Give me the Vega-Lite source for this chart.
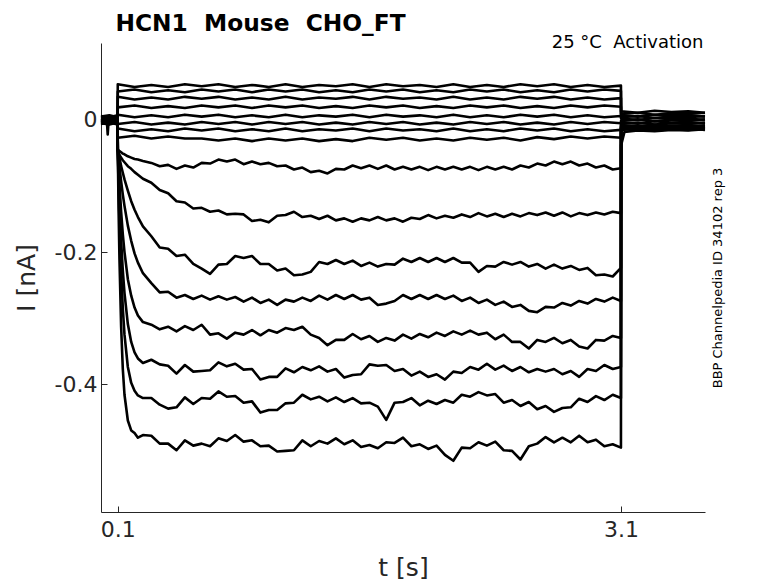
{
"$schema": "https://vega.github.io/schema/vega-lite/v6.json",
"autosize": "none",
"width": 604,
"height": 469,
"padding": {"left": 101, "top": 43, "right": 73, "bottom": 71},
"background": "white",
"config": {"view": {"stroke": null}, "font": "DejaVu Sans"},
"title": {"text": "HCN1\u00a0 Mouse\u00a0 CHO_FT", "anchor": "start", "frame": "group", "font": "DejaVu Sans", "fontSize": 23.3, "fontWeight": "bold", "color": "black", "dx": 14.5, "dy": 28, "offset": 7, "baseline": "alphabetic"},
"data": {"values": [
{"trace":"T1","t":0,"I":0.006},{"trace":"T1","t":0.05,"I":0.004},{"trace":"T1","t":0.099,"I":0.007},
{"trace":"T1","t":0.1,"I":0.054},{"trace":"T1","t":0.2,"I":0.050},{"trace":"T1","t":0.3,"I":0.053},{"trace":"T1","t":0.4,"I":0.050},{"trace":"T1","t":0.5,"I":0.054},{"trace":"T1","t":0.6,"I":0.051},{"trace":"T1","t":0.7,"I":0.054},{"trace":"T1","t":0.8,"I":0.050},{"trace":"T1","t":0.9,"I":0.053},{"trace":"T1","t":1.0,"I":0.050},{"trace":"T1","t":1.1,"I":0.054},{"trace":"T1","t":1.2,"I":0.050},{"trace":"T1","t":1.3,"I":0.053},{"trace":"T1","t":1.4,"I":0.051},{"trace":"T1","t":1.5,"I":0.054},{"trace":"T1","t":1.6,"I":0.050},{"trace":"T1","t":1.7,"I":0.054},{"trace":"T1","t":1.8,"I":0.051},{"trace":"T1","t":1.9,"I":0.053},{"trace":"T1","t":2.0,"I":0.050},{"trace":"T1","t":2.1,"I":0.054},{"trace":"T1","t":2.2,"I":0.050},{"trace":"T1","t":2.3,"I":0.053},{"trace":"T1","t":2.4,"I":0.050},{"trace":"T1","t":2.5,"I":0.054},{"trace":"T1","t":2.6,"I":0.051},{"trace":"T1","t":2.7,"I":0.054},{"trace":"T1","t":2.8,"I":0.050},{"trace":"T1","t":2.9,"I":0.053},{"trace":"T1","t":3.0,"I":0.050},{"trace":"T1","t":3.099,"I":0.052},
{"trace":"T1","t":3.1,"I":0.013},{"trace":"T1","t":3.2,"I":0.011},{"trace":"T1","t":3.3,"I":0.014},{"trace":"T1","t":3.4,"I":0.012},{"trace":"T1","t":3.5,"I":0.013},{"trace":"T1","t":3.6,"I":0.011},
{"trace":"T2","t":0,"I":0.004},{"trace":"T2","t":0.05,"I":0.006},{"trace":"T2","t":0.099,"I":0.003},
{"trace":"T2","t":0.1,"I":0.043},{"trace":"T2","t":0.2,"I":0.046},{"trace":"T2","t":0.3,"I":0.042},{"trace":"T2","t":0.4,"I":0.045},{"trace":"T2","t":0.5,"I":0.042},{"trace":"T2","t":0.6,"I":0.046},{"trace":"T2","t":0.7,"I":0.043},{"trace":"T2","t":0.8,"I":0.046},{"trace":"T2","t":0.9,"I":0.042},{"trace":"T2","t":1.0,"I":0.046},{"trace":"T2","t":1.1,"I":0.043},{"trace":"T2","t":1.2,"I":0.046},{"trace":"T2","t":1.3,"I":0.042},{"trace":"T2","t":1.4,"I":0.045},{"trace":"T2","t":1.5,"I":0.042},{"trace":"T2","t":1.6,"I":0.046},{"trace":"T2","t":1.7,"I":0.043},{"trace":"T2","t":1.8,"I":0.046},{"trace":"T2","t":1.9,"I":0.042},{"trace":"T2","t":2.0,"I":0.045},{"trace":"T2","t":2.1,"I":0.042},{"trace":"T2","t":2.2,"I":0.046},{"trace":"T2","t":2.3,"I":0.043},{"trace":"T2","t":2.4,"I":0.046},{"trace":"T2","t":2.5,"I":0.042},{"trace":"T2","t":2.6,"I":0.045},{"trace":"T2","t":2.7,"I":0.042},{"trace":"T2","t":2.8,"I":0.046},{"trace":"T2","t":2.9,"I":0.043},{"trace":"T2","t":3.0,"I":0.046},{"trace":"T2","t":3.099,"I":0.044},
{"trace":"T2","t":3.1,"I":0.009},{"trace":"T2","t":3.2,"I":0.011},{"trace":"T2","t":3.3,"I":0.008},{"trace":"T2","t":3.4,"I":0.010},{"trace":"T2","t":3.5,"I":0.009},{"trace":"T2","t":3.6,"I":0.011},
{"trace":"T3","t":0,"I":0.002},{"trace":"T3","t":0.05,"I":0.004},{"trace":"T3","t":0.099,"I":0.001},
{"trace":"T3","t":0.1,"I":0.035},{"trace":"T3","t":0.2,"I":0.031},{"trace":"T3","t":0.3,"I":0.034},{"trace":"T3","t":0.4,"I":0.031},{"trace":"T3","t":0.5,"I":0.035},{"trace":"T3","t":0.6,"I":0.032},{"trace":"T3","t":0.7,"I":0.035},{"trace":"T3","t":0.8,"I":0.031},{"trace":"T3","t":0.9,"I":0.034},{"trace":"T3","t":1.0,"I":0.031},{"trace":"T3","t":1.1,"I":0.035},{"trace":"T3","t":1.2,"I":0.031},{"trace":"T3","t":1.3,"I":0.034},{"trace":"T3","t":1.4,"I":0.032},{"trace":"T3","t":1.5,"I":0.035},{"trace":"T3","t":1.6,"I":0.031},{"trace":"T3","t":1.7,"I":0.035},{"trace":"T3","t":1.8,"I":0.032},{"trace":"T3","t":1.9,"I":0.034},{"trace":"T3","t":2.0,"I":0.031},{"trace":"T3","t":2.1,"I":0.035},{"trace":"T3","t":2.2,"I":0.031},{"trace":"T3","t":2.3,"I":0.034},{"trace":"T3","t":2.4,"I":0.031},{"trace":"T3","t":2.5,"I":0.035},{"trace":"T3","t":2.6,"I":0.032},{"trace":"T3","t":2.7,"I":0.035},{"trace":"T3","t":2.8,"I":0.031},{"trace":"T3","t":2.9,"I":0.034},{"trace":"T3","t":3.0,"I":0.031},{"trace":"T3","t":3.099,"I":0.033},
{"trace":"T3","t":3.1,"I":0.007},{"trace":"T3","t":3.2,"I":0.005},{"trace":"T3","t":3.3,"I":0.008},{"trace":"T3","t":3.4,"I":0.006},{"trace":"T3","t":3.5,"I":0.007},{"trace":"T3","t":3.6,"I":0.005},
{"trace":"T4","t":0,"I":0.000},{"trace":"T4","t":0.05,"I":0.002},{"trace":"T4","t":0.099,"I":-0.001},
{"trace":"T4","t":0.1,"I":0.019},{"trace":"T4","t":0.2,"I":0.022},{"trace":"T4","t":0.3,"I":0.018},{"trace":"T4","t":0.4,"I":0.021},{"trace":"T4","t":0.5,"I":0.018},{"trace":"T4","t":0.6,"I":0.022},{"trace":"T4","t":0.7,"I":0.019},{"trace":"T4","t":0.8,"I":0.022},{"trace":"T4","t":0.9,"I":0.018},{"trace":"T4","t":1.0,"I":0.022},{"trace":"T4","t":1.1,"I":0.019},{"trace":"T4","t":1.2,"I":0.022},{"trace":"T4","t":1.3,"I":0.018},{"trace":"T4","t":1.4,"I":0.021},{"trace":"T4","t":1.5,"I":0.018},{"trace":"T4","t":1.6,"I":0.022},{"trace":"T4","t":1.7,"I":0.019},{"trace":"T4","t":1.8,"I":0.022},{"trace":"T4","t":1.9,"I":0.018},{"trace":"T4","t":2.0,"I":0.021},{"trace":"T4","t":2.1,"I":0.018},{"trace":"T4","t":2.2,"I":0.022},{"trace":"T4","t":2.3,"I":0.019},{"trace":"T4","t":2.4,"I":0.022},{"trace":"T4","t":2.5,"I":0.018},{"trace":"T4","t":2.6,"I":0.021},{"trace":"T4","t":2.7,"I":0.018},{"trace":"T4","t":2.8,"I":0.022},{"trace":"T4","t":2.9,"I":0.019},{"trace":"T4","t":3.0,"I":0.022},{"trace":"T4","t":3.099,"I":0.020},
{"trace":"T4","t":3.1,"I":0.004},{"trace":"T4","t":3.2,"I":0.006},{"trace":"T4","t":3.3,"I":0.003},{"trace":"T4","t":3.4,"I":0.005},{"trace":"T4","t":3.5,"I":0.004},{"trace":"T4","t":3.6,"I":0.006},
{"trace":"T5","t":0,"I":-0.002},{"trace":"T5","t":0.05,"I":0.000},{"trace":"T5","t":0.099,"I":-0.003},
{"trace":"T5","t":0.1,"I":0.008},{"trace":"T5","t":0.2,"I":0.004},{"trace":"T5","t":0.3,"I":0.007},{"trace":"T5","t":0.4,"I":0.004},{"trace":"T5","t":0.5,"I":0.008},{"trace":"T5","t":0.6,"I":0.005},{"trace":"T5","t":0.7,"I":0.008},{"trace":"T5","t":0.8,"I":0.004},{"trace":"T5","t":0.9,"I":0.007},{"trace":"T5","t":1.0,"I":0.004},{"trace":"T5","t":1.1,"I":0.008},{"trace":"T5","t":1.2,"I":0.004},{"trace":"T5","t":1.3,"I":0.007},{"trace":"T5","t":1.4,"I":0.005},{"trace":"T5","t":1.5,"I":0.008},{"trace":"T5","t":1.6,"I":0.004},{"trace":"T5","t":1.7,"I":0.008},{"trace":"T5","t":1.8,"I":0.005},{"trace":"T5","t":1.9,"I":0.007},{"trace":"T5","t":2.0,"I":0.004},{"trace":"T5","t":2.1,"I":0.008},{"trace":"T5","t":2.2,"I":0.004},{"trace":"T5","t":2.3,"I":0.007},{"trace":"T5","t":2.4,"I":0.004},{"trace":"T5","t":2.5,"I":0.008},{"trace":"T5","t":2.6,"I":0.005},{"trace":"T5","t":2.7,"I":0.008},{"trace":"T5","t":2.8,"I":0.004},{"trace":"T5","t":2.9,"I":0.007},{"trace":"T5","t":3.0,"I":0.004},{"trace":"T5","t":3.099,"I":0.006},
{"trace":"T5","t":3.1,"I":0.002},{"trace":"T5","t":3.2,"I":0.000},{"trace":"T5","t":3.3,"I":0.003},{"trace":"T5","t":3.4,"I":0.001},{"trace":"T5","t":3.5,"I":0.002},{"trace":"T5","t":3.6,"I":0.000},
{"trace":"T6","t":0,"I":-0.004},{"trace":"T6","t":0.05,"I":-0.002},{"trace":"T6","t":0.099,"I":-0.005},
{"trace":"T6","t":0.1,"I":-0.006},{"trace":"T6","t":0.2,"I":-0.003},{"trace":"T6","t":0.3,"I":-0.007},{"trace":"T6","t":0.4,"I":-0.004},{"trace":"T6","t":0.5,"I":-0.007},{"trace":"T6","t":0.6,"I":-0.003},{"trace":"T6","t":0.7,"I":-0.006},{"trace":"T6","t":0.8,"I":-0.003},{"trace":"T6","t":0.9,"I":-0.007},{"trace":"T6","t":1.0,"I":-0.003},{"trace":"T6","t":1.1,"I":-0.006},{"trace":"T6","t":1.2,"I":-0.003},{"trace":"T6","t":1.3,"I":-0.007},{"trace":"T6","t":1.4,"I":-0.004},{"trace":"T6","t":1.5,"I":-0.007},{"trace":"T6","t":1.6,"I":-0.003},{"trace":"T6","t":1.7,"I":-0.006},{"trace":"T6","t":1.8,"I":-0.003},{"trace":"T6","t":1.9,"I":-0.007},{"trace":"T6","t":2.0,"I":-0.004},{"trace":"T6","t":2.1,"I":-0.007},{"trace":"T6","t":2.2,"I":-0.003},{"trace":"T6","t":2.3,"I":-0.006},{"trace":"T6","t":2.4,"I":-0.003},{"trace":"T6","t":2.5,"I":-0.007},{"trace":"T6","t":2.6,"I":-0.004},{"trace":"T6","t":2.7,"I":-0.007},{"trace":"T6","t":2.8,"I":-0.003},{"trace":"T6","t":2.9,"I":-0.006},{"trace":"T6","t":3.0,"I":-0.003},{"trace":"T6","t":3.099,"I":-0.005},
{"trace":"T6","t":3.1,"I":-0.001},{"trace":"T6","t":3.2,"I":0.001},{"trace":"T6","t":3.3,"I":-0.002},{"trace":"T6","t":3.4,"I":0.000},{"trace":"T6","t":3.5,"I":-0.001},{"trace":"T6","t":3.6,"I":0.001},
{"trace":"T7","t":0,"I":-0.006},{"trace":"T7","t":0.05,"I":-0.004},{"trace":"T7","t":0.099,"I":-0.007},
{"trace":"T7","t":0.1,"I":-0.013},{"trace":"T7","t":0.2,"I":-0.017},{"trace":"T7","t":0.3,"I":-0.014},{"trace":"T7","t":0.4,"I":-0.017},{"trace":"T7","t":0.5,"I":-0.013},{"trace":"T7","t":0.6,"I":-0.016},{"trace":"T7","t":0.7,"I":-0.013},{"trace":"T7","t":0.8,"I":-0.017},{"trace":"T7","t":0.9,"I":-0.014},{"trace":"T7","t":1.0,"I":-0.017},{"trace":"T7","t":1.1,"I":-0.013},{"trace":"T7","t":1.2,"I":-0.017},{"trace":"T7","t":1.3,"I":-0.014},{"trace":"T7","t":1.4,"I":-0.016},{"trace":"T7","t":1.5,"I":-0.013},{"trace":"T7","t":1.6,"I":-0.017},{"trace":"T7","t":1.7,"I":-0.013},{"trace":"T7","t":1.8,"I":-0.016},{"trace":"T7","t":1.9,"I":-0.014},{"trace":"T7","t":2.0,"I":-0.017},{"trace":"T7","t":2.1,"I":-0.013},{"trace":"T7","t":2.2,"I":-0.017},{"trace":"T7","t":2.3,"I":-0.014},{"trace":"T7","t":2.4,"I":-0.017},{"trace":"T7","t":2.5,"I":-0.013},{"trace":"T7","t":2.6,"I":-0.016},{"trace":"T7","t":2.7,"I":-0.013},{"trace":"T7","t":2.8,"I":-0.017},{"trace":"T7","t":2.9,"I":-0.014},{"trace":"T7","t":3.0,"I":-0.017},{"trace":"T7","t":3.099,"I":-0.015},
{"trace":"T7","t":3.1,"I":-0.003},{"trace":"T7","t":3.2,"I":-0.005},{"trace":"T7","t":3.3,"I":-0.002},{"trace":"T7","t":3.4,"I":-0.004},{"trace":"T7","t":3.5,"I":-0.003},{"trace":"T7","t":3.6,"I":-0.005},
{"trace":"T8","t":0,"I":0.005},{"trace":"T8","t":0.05,"I":0.007},{"trace":"T8","t":0.099,"I":0.004},
{"trace":"T8","t":0.1,"I":-0.027},{"trace":"T8","t":0.2,"I":-0.024},{"trace":"T8","t":0.3,"I":-0.028},{"trace":"T8","t":0.4,"I":-0.025},{"trace":"T8","t":0.5,"I":-0.028},{"trace":"T8","t":0.6,"I":-0.028},{"trace":"T8","t":0.7,"I":-0.031},{"trace":"T8","t":0.8,"I":-0.028},{"trace":"T8","t":0.9,"I":-0.032},{"trace":"T8","t":1.0,"I":-0.028},{"trace":"T8","t":1.1,"I":-0.031},{"trace":"T8","t":1.2,"I":-0.028},{"trace":"T8","t":1.3,"I":-0.032},{"trace":"T8","t":1.4,"I":-0.029},{"trace":"T8","t":1.5,"I":-0.032},{"trace":"T8","t":1.6,"I":-0.027},{"trace":"T8","t":1.7,"I":-0.030},{"trace":"T8","t":1.8,"I":-0.027},{"trace":"T8","t":1.9,"I":-0.031},{"trace":"T8","t":2.0,"I":-0.028},{"trace":"T8","t":2.1,"I":-0.031},{"trace":"T8","t":2.2,"I":-0.027},{"trace":"T8","t":2.3,"I":-0.030},{"trace":"T8","t":2.4,"I":-0.027},{"trace":"T8","t":2.5,"I":-0.031},{"trace":"T8","t":2.6,"I":-0.026},{"trace":"T8","t":2.7,"I":-0.029},{"trace":"T8","t":2.8,"I":-0.025},{"trace":"T8","t":2.9,"I":-0.028},{"trace":"T8","t":3.0,"I":-0.025},{"trace":"T8","t":3.099,"I":-0.027},
{"trace":"T8","t":3.1,"I":-0.006},{"trace":"T8","t":3.2,"I":-0.004},{"trace":"T8","t":3.3,"I":-0.007},{"trace":"T8","t":3.4,"I":-0.005},{"trace":"T8","t":3.5,"I":-0.006},{"trace":"T8","t":3.6,"I":-0.004},
{"trace":"T9","t":0,"I":0.003},{"trace":"T9","t":0.05,"I":0.001},{"trace":"T9","t":0.099,"I":0.004},
{"trace":"T9","t":0.1,"I":-0.045},{"trace":"T9","t":0.105,"I":-0.046},{"trace":"T9","t":0.11,"I":-0.047},{"trace":"T9","t":0.12,"I":-0.049},{"trace":"T9","t":0.13,"I":-0.051},{"trace":"T9","t":0.14,"I":-0.052},{"trace":"T9","t":0.16,"I":-0.055},{"trace":"T9","t":0.18,"I":-0.057},{"trace":"T9","t":0.2,"I":-0.059},{"trace":"T9","t":0.22,"I":-0.060},{"trace":"T9","t":0.25,"I":-0.062},
{"trace":"T9","t":0.3,"I":-0.065},{"trace":"T9","t":0.35,"I":-0.070},{"trace":"T9","t":0.4,"I":-0.068},{"trace":"T9","t":0.45,"I":-0.074},{"trace":"T9","t":0.5,"I":-0.069},{"trace":"T9","t":0.55,"I":-0.072},{"trace":"T9","t":0.6,"I":-0.065},{"trace":"T9","t":0.65,"I":-0.066},{"trace":"T9","t":0.7,"I":-0.060},{"trace":"T9","t":0.75,"I":-0.063},{"trace":"T9","t":0.8,"I":-0.060},{"trace":"T9","t":0.85,"I":-0.067},{"trace":"T9","t":0.9,"I":-0.063},{"trace":"T9","t":0.95,"I":-0.067},{"trace":"T9","t":1.0,"I":-0.065},{"trace":"T9","t":1.05,"I":-0.070},{"trace":"T9","t":1.1,"I":-0.069},{"trace":"T9","t":1.15,"I":-0.075},{"trace":"T9","t":1.2,"I":-0.072},{"trace":"T9","t":1.25,"I":-0.079},{"trace":"T9","t":1.3,"I":-0.077},{"trace":"T9","t":1.35,"I":-0.081},{"trace":"T9","t":1.4,"I":-0.074},{"trace":"T9","t":1.45,"I":-0.075},{"trace":"T9","t":1.5,"I":-0.069},{"trace":"T9","t":1.55,"I":-0.073},{"trace":"T9","t":1.6,"I":-0.069},{"trace":"T9","t":1.65,"I":-0.074},{"trace":"T9","t":1.7,"I":-0.069},{"trace":"T9","t":1.75,"I":-0.075},{"trace":"T9","t":1.8,"I":-0.071},{"trace":"T9","t":1.85,"I":-0.075},{"trace":"T9","t":1.9,"I":-0.071},{"trace":"T9","t":1.95,"I":-0.076},{"trace":"T9","t":2.0,"I":-0.071},{"trace":"T9","t":2.05,"I":-0.075},{"trace":"T9","t":2.1,"I":-0.071},{"trace":"T9","t":2.15,"I":-0.075},{"trace":"T9","t":2.2,"I":-0.071},{"trace":"T9","t":2.25,"I":-0.076},{"trace":"T9","t":2.3,"I":-0.071},{"trace":"T9","t":2.35,"I":-0.075},{"trace":"T9","t":2.4,"I":-0.071},{"trace":"T9","t":2.45,"I":-0.075},{"trace":"T9","t":2.5,"I":-0.069},{"trace":"T9","t":2.55,"I":-0.072},{"trace":"T9","t":2.6,"I":-0.066},{"trace":"T9","t":2.65,"I":-0.069},{"trace":"T9","t":2.7,"I":-0.063},{"trace":"T9","t":2.75,"I":-0.067},{"trace":"T9","t":2.8,"I":-0.063},{"trace":"T9","t":2.85,"I":-0.069},{"trace":"T9","t":2.9,"I":-0.066},{"trace":"T9","t":2.95,"I":-0.072},{"trace":"T9","t":3.0,"I":-0.069},{"trace":"T9","t":3.05,"I":-0.075},{"trace":"T9","t":3.099,"I":-0.073},
{"trace":"T9","t":3.1,"I":-0.008},{"trace":"T9","t":3.2,"I":-0.010},{"trace":"T9","t":3.3,"I":-0.007},{"trace":"T9","t":3.4,"I":-0.009},{"trace":"T9","t":3.5,"I":-0.008},{"trace":"T9","t":3.6,"I":-0.010},
{"trace":"T10","t":0,"I":0.001},{"trace":"T10","t":0.05,"I":-0.001},{"trace":"T10","t":0.099,"I":0.002},
{"trace":"T10","t":0.1,"I":-0.046},{"trace":"T10","t":0.105,"I":-0.050},{"trace":"T10","t":0.11,"I":-0.053},{"trace":"T10","t":0.12,"I":-0.057},{"trace":"T10","t":0.13,"I":-0.061},{"trace":"T10","t":0.14,"I":-0.064},{"trace":"T10","t":0.16,"I":-0.070},{"trace":"T10","t":0.18,"I":-0.074},{"trace":"T10","t":0.2,"I":-0.079},{"trace":"T10","t":0.22,"I":-0.083},{"trace":"T10","t":0.25,"I":-0.089},
{"trace":"T10","t":0.3,"I":-0.095},{"trace":"T10","t":0.35,"I":-0.106},{"trace":"T10","t":0.4,"I":-0.111},{"trace":"T10","t":0.45,"I":-0.123},{"trace":"T10","t":0.5,"I":-0.125},{"trace":"T10","t":0.55,"I":-0.134},{"trace":"T10","t":0.6,"I":-0.133},{"trace":"T10","t":0.65,"I":-0.139},{"trace":"T10","t":0.7,"I":-0.137},{"trace":"T10","t":0.75,"I":-0.143},{"trace":"T10","t":0.8,"I":-0.142},{"trace":"T10","t":0.85,"I":-0.143},{"trace":"T10","t":0.9,"I":-0.153},{"trace":"T10","t":0.95,"I":-0.151},{"trace":"T10","t":1.0,"I":-0.155},{"trace":"T10","t":1.05,"I":-0.145},{"trace":"T10","t":1.1,"I":-0.144},{"trace":"T10","t":1.15,"I":-0.139},{"trace":"T10","t":1.2,"I":-0.147},{"trace":"T10","t":1.25,"I":-0.145},{"trace":"T10","t":1.3,"I":-0.150},{"trace":"T10","t":1.35,"I":-0.145},{"trace":"T10","t":1.4,"I":-0.152},{"trace":"T10","t":1.45,"I":-0.149},{"trace":"T10","t":1.5,"I":-0.154},{"trace":"T10","t":1.55,"I":-0.149},{"trace":"T10","t":1.6,"I":-0.152},{"trace":"T10","t":1.65,"I":-0.147},{"trace":"T10","t":1.7,"I":-0.152},{"trace":"T10","t":1.75,"I":-0.149},{"trace":"T10","t":1.8,"I":-0.154},{"trace":"T10","t":1.85,"I":-0.148},{"trace":"T10","t":1.9,"I":-0.150},{"trace":"T10","t":1.95,"I":-0.144},{"trace":"T10","t":2.0,"I":-0.149},{"trace":"T10","t":2.05,"I":-0.145},{"trace":"T10","t":2.1,"I":-0.148},{"trace":"T10","t":2.15,"I":-0.143},{"trace":"T10","t":2.2,"I":-0.147},{"trace":"T10","t":2.25,"I":-0.141},{"trace":"T10","t":2.3,"I":-0.146},{"trace":"T10","t":2.35,"I":-0.142},{"trace":"T10","t":2.4,"I":-0.147},{"trace":"T10","t":2.45,"I":-0.142},{"trace":"T10","t":2.5,"I":-0.146},{"trace":"T10","t":2.55,"I":-0.141},{"trace":"T10","t":2.6,"I":-0.144},{"trace":"T10","t":2.65,"I":-0.140},{"trace":"T10","t":2.7,"I":-0.145},{"trace":"T10","t":2.75,"I":-0.140},{"trace":"T10","t":2.8,"I":-0.146},{"trace":"T10","t":2.85,"I":-0.141},{"trace":"T10","t":2.9,"I":-0.144},{"trace":"T10","t":2.95,"I":-0.140},{"trace":"T10","t":3.0,"I":-0.143},{"trace":"T10","t":3.05,"I":-0.139},{"trace":"T10","t":3.099,"I":-0.141},
{"trace":"T10","t":3.1,"I":-0.010},{"trace":"T10","t":3.2,"I":-0.008},{"trace":"T10","t":3.3,"I":-0.011},{"trace":"T10","t":3.4,"I":-0.009},{"trace":"T10","t":3.5,"I":-0.010},{"trace":"T10","t":3.6,"I":-0.008},
{"trace":"T11","t":0,"I":-0.001},{"trace":"T11","t":0.05,"I":-0.003},{"trace":"T11","t":0.099,"I":0.000},
{"trace":"T11","t":0.1,"I":-0.045},{"trace":"T11","t":0.105,"I":-0.051},{"trace":"T11","t":0.11,"I":-0.057},{"trace":"T11","t":0.12,"I":-0.070},{"trace":"T11","t":0.13,"I":-0.080},{"trace":"T11","t":0.14,"I":-0.090},{"trace":"T11","t":0.16,"I":-0.107},{"trace":"T11","t":0.18,"I":-0.123},{"trace":"T11","t":0.2,"I":-0.136},{"trace":"T11","t":0.22,"I":-0.147},{"trace":"T11","t":0.25,"I":-0.161},
{"trace":"T11","t":0.3,"I":-0.176},{"trace":"T11","t":0.35,"I":-0.193},{"trace":"T11","t":0.4,"I":-0.195},{"trace":"T11","t":0.45,"I":-0.206},{"trace":"T11","t":0.5,"I":-0.204},{"trace":"T11","t":0.55,"I":-0.218},{"trace":"T11","t":0.6,"I":-0.225},{"trace":"T11","t":0.65,"I":-0.233},{"trace":"T11","t":0.7,"I":-0.219},{"trace":"T11","t":0.75,"I":-0.218},{"trace":"T11","t":0.8,"I":-0.206},{"trace":"T11","t":0.85,"I":-0.209},{"trace":"T11","t":0.9,"I":-0.206},{"trace":"T11","t":0.95,"I":-0.218},{"trace":"T11","t":1.0,"I":-0.218},{"trace":"T11","t":1.05,"I":-0.228},{"trace":"T11","t":1.1,"I":-0.225},{"trace":"T11","t":1.15,"I":-0.235},{"trace":"T11","t":1.2,"I":-0.234},{"trace":"T11","t":1.25,"I":-0.230},{"trace":"T11","t":1.3,"I":-0.215},{"trace":"T11","t":1.35,"I":-0.218},{"trace":"T11","t":1.4,"I":-0.212},{"trace":"T11","t":1.45,"I":-0.218},{"trace":"T11","t":1.5,"I":-0.213},{"trace":"T11","t":1.55,"I":-0.221},{"trace":"T11","t":1.6,"I":-0.216},{"trace":"T11","t":1.65,"I":-0.222},{"trace":"T11","t":1.7,"I":-0.218},{"trace":"T11","t":1.75,"I":-0.219},{"trace":"T11","t":1.8,"I":-0.210},{"trace":"T11","t":1.85,"I":-0.215},{"trace":"T11","t":1.9,"I":-0.209},{"trace":"T11","t":1.95,"I":-0.215},{"trace":"T11","t":2.0,"I":-0.209},{"trace":"T11","t":2.05,"I":-0.215},{"trace":"T11","t":2.1,"I":-0.209},{"trace":"T11","t":2.15,"I":-0.216},{"trace":"T11","t":2.2,"I":-0.216},{"trace":"T11","t":2.25,"I":-0.230},{"trace":"T11","t":2.3,"I":-0.221},{"trace":"T11","t":2.35,"I":-0.222},{"trace":"T11","t":2.4,"I":-0.215},{"trace":"T11","t":2.45,"I":-0.219},{"trace":"T11","t":2.5,"I":-0.215},{"trace":"T11","t":2.55,"I":-0.222},{"trace":"T11","t":2.6,"I":-0.218},{"trace":"T11","t":2.65,"I":-0.225},{"trace":"T11","t":2.7,"I":-0.219},{"trace":"T11","t":2.75,"I":-0.225},{"trace":"T11","t":2.8,"I":-0.221},{"trace":"T11","t":2.85,"I":-0.227},{"trace":"T11","t":2.9,"I":-0.224},{"trace":"T11","t":2.95,"I":-0.235},{"trace":"T11","t":3.0,"I":-0.234},{"trace":"T11","t":3.05,"I":-0.237},{"trace":"T11","t":3.099,"I":-0.224},
{"trace":"T11","t":3.1,"I":-0.012},{"trace":"T11","t":3.2,"I":-0.010},{"trace":"T11","t":3.3,"I":-0.013},{"trace":"T11","t":3.4,"I":-0.011},{"trace":"T11","t":3.5,"I":-0.012},{"trace":"T11","t":3.6,"I":-0.010},
{"trace":"T12","t":0,"I":-0.003},{"trace":"T12","t":0.05,"I":-0.005},{"trace":"T12","t":0.099,"I":-0.002},
{"trace":"T12","t":0.1,"I":-0.045},{"trace":"T12","t":0.105,"I":-0.059},{"trace":"T12","t":0.11,"I":-0.071},{"trace":"T12","t":0.12,"I":-0.093},{"trace":"T12","t":0.13,"I":-0.113},{"trace":"T12","t":0.14,"I":-0.130},{"trace":"T12","t":0.16,"I":-0.160},{"trace":"T12","t":0.18,"I":-0.183},{"trace":"T12","t":0.2,"I":-0.202},{"trace":"T12","t":0.22,"I":-0.216},{"trace":"T12","t":0.25,"I":-0.232},
{"trace":"T12","t":0.3,"I":-0.247},{"trace":"T12","t":0.35,"I":-0.261},{"trace":"T12","t":0.4,"I":-0.260},{"trace":"T12","t":0.45,"I":-0.269},{"trace":"T12","t":0.5,"I":-0.265},{"trace":"T12","t":0.55,"I":-0.271},{"trace":"T12","t":0.6,"I":-0.266},{"trace":"T12","t":0.65,"I":-0.272},{"trace":"T12","t":0.7,"I":-0.267},{"trace":"T12","t":0.75,"I":-0.272},{"trace":"T12","t":0.8,"I":-0.268},{"trace":"T12","t":0.85,"I":-0.275},{"trace":"T12","t":0.9,"I":-0.269},{"trace":"T12","t":0.95,"I":-0.277},{"trace":"T12","t":1.0,"I":-0.272},{"trace":"T12","t":1.05,"I":-0.280},{"trace":"T12","t":1.1,"I":-0.272},{"trace":"T12","t":1.15,"I":-0.275},{"trace":"T12","t":1.2,"I":-0.269},{"trace":"T12","t":1.25,"I":-0.274},{"trace":"T12","t":1.3,"I":-0.266},{"trace":"T12","t":1.35,"I":-0.272},{"trace":"T12","t":1.4,"I":-0.265},{"trace":"T12","t":1.45,"I":-0.271},{"trace":"T12","t":1.5,"I":-0.265},{"trace":"T12","t":1.55,"I":-0.272},{"trace":"T12","t":1.6,"I":-0.269},{"trace":"T12","t":1.65,"I":-0.280},{"trace":"T12","t":1.7,"I":-0.278},{"trace":"T12","t":1.75,"I":-0.274},{"trace":"T12","t":1.8,"I":-0.265},{"trace":"T12","t":1.85,"I":-0.271},{"trace":"T12","t":1.9,"I":-0.265},{"trace":"T12","t":1.95,"I":-0.271},{"trace":"T12","t":2.0,"I":-0.265},{"trace":"T12","t":2.05,"I":-0.271},{"trace":"T12","t":2.1,"I":-0.266},{"trace":"T12","t":2.15,"I":-0.274},{"trace":"T12","t":2.2,"I":-0.269},{"trace":"T12","t":2.25,"I":-0.277},{"trace":"T12","t":2.3,"I":-0.272},{"trace":"T12","t":2.35,"I":-0.280},{"trace":"T12","t":2.4,"I":-0.275},{"trace":"T12","t":2.45,"I":-0.283},{"trace":"T12","t":2.5,"I":-0.280},{"trace":"T12","t":2.55,"I":-0.289},{"trace":"T12","t":2.6,"I":-0.291},{"trace":"T12","t":2.65,"I":-0.283},{"trace":"T12","t":2.7,"I":-0.284},{"trace":"T12","t":2.75,"I":-0.277},{"trace":"T12","t":2.8,"I":-0.281},{"trace":"T12","t":2.85,"I":-0.274},{"trace":"T12","t":2.9,"I":-0.278},{"trace":"T12","t":2.95,"I":-0.271},{"trace":"T12","t":3.0,"I":-0.275},{"trace":"T12","t":3.05,"I":-0.269},{"trace":"T12","t":3.099,"I":-0.274},
{"trace":"T12","t":3.1,"I":-0.011},{"trace":"T12","t":3.2,"I":-0.013},{"trace":"T12","t":3.3,"I":-0.010},{"trace":"T12","t":3.4,"I":-0.012},{"trace":"T12","t":3.5,"I":-0.011},{"trace":"T12","t":3.6,"I":-0.013},
{"trace":"T13","t":0,"I":-0.005},{"trace":"T13","t":0.05,"I":-0.007},{"trace":"T13","t":0.099,"I":-0.004},
{"trace":"T13","t":0.1,"I":-0.045},{"trace":"T13","t":0.105,"I":-0.073},{"trace":"T13","t":0.11,"I":-0.097},{"trace":"T13","t":0.12,"I":-0.139},{"trace":"T13","t":0.13,"I":-0.173},{"trace":"T13","t":0.14,"I":-0.200},{"trace":"T13","t":0.16,"I":-0.241},{"trace":"T13","t":0.18,"I":-0.266},{"trace":"T13","t":0.2,"I":-0.284},{"trace":"T13","t":0.22,"I":-0.296},{"trace":"T13","t":0.25,"I":-0.306},
{"trace":"T13","t":0.3,"I":-0.310},{"trace":"T13","t":0.35,"I":-0.317},{"trace":"T13","t":0.4,"I":-0.313},{"trace":"T13","t":0.45,"I":-0.320},{"trace":"T13","t":0.5,"I":-0.312},{"trace":"T13","t":0.55,"I":-0.318},{"trace":"T13","t":0.6,"I":-0.310},{"trace":"T13","t":0.65,"I":-0.325},{"trace":"T13","t":0.7,"I":-0.323},{"trace":"T13","t":0.75,"I":-0.331},{"trace":"T13","t":0.8,"I":-0.322},{"trace":"T13","t":0.85,"I":-0.325},{"trace":"T13","t":0.9,"I":-0.318},{"trace":"T13","t":0.95,"I":-0.326},{"trace":"T13","t":1.0,"I":-0.318},{"trace":"T13","t":1.05,"I":-0.322},{"trace":"T13","t":1.1,"I":-0.315},{"trace":"T13","t":1.15,"I":-0.318},{"trace":"T13","t":1.2,"I":-0.313},{"trace":"T13","t":1.25,"I":-0.325},{"trace":"T13","t":1.3,"I":-0.330},{"trace":"T13","t":1.35,"I":-0.341},{"trace":"T13","t":1.4,"I":-0.333},{"trace":"T13","t":1.45,"I":-0.333},{"trace":"T13","t":1.5,"I":-0.324},{"trace":"T13","t":1.55,"I":-0.332},{"trace":"T13","t":1.6,"I":-0.327},{"trace":"T13","t":1.65,"I":-0.336},{"trace":"T13","t":1.7,"I":-0.330},{"trace":"T13","t":1.75,"I":-0.334},{"trace":"T13","t":1.8,"I":-0.325},{"trace":"T13","t":1.85,"I":-0.331},{"trace":"T13","t":1.9,"I":-0.324},{"trace":"T13","t":1.95,"I":-0.329},{"trace":"T13","t":2.0,"I":-0.322},{"trace":"T13","t":2.05,"I":-0.327},{"trace":"T13","t":2.1,"I":-0.320},{"trace":"T13","t":2.15,"I":-0.325},{"trace":"T13","t":2.2,"I":-0.319},{"trace":"T13","t":2.25,"I":-0.325},{"trace":"T13","t":2.3,"I":-0.322},{"trace":"T13","t":2.35,"I":-0.332},{"trace":"T13","t":2.4,"I":-0.325},{"trace":"T13","t":2.45,"I":-0.336},{"trace":"T13","t":2.5,"I":-0.336},{"trace":"T13","t":2.55,"I":-0.346},{"trace":"T13","t":2.6,"I":-0.333},{"trace":"T13","t":2.65,"I":-0.336},{"trace":"T13","t":2.7,"I":-0.330},{"trace":"T13","t":2.75,"I":-0.338},{"trace":"T13","t":2.8,"I":-0.333},{"trace":"T13","t":2.85,"I":-0.343},{"trace":"T13","t":2.9,"I":-0.346},{"trace":"T13","t":2.95,"I":-0.333},{"trace":"T13","t":3.0,"I":-0.334},{"trace":"T13","t":3.05,"I":-0.327},{"trace":"T13","t":3.099,"I":-0.330},
{"trace":"T13","t":3.1,"I":-0.013},{"trace":"T13","t":3.2,"I":-0.015},{"trace":"T13","t":3.3,"I":-0.012},{"trace":"T13","t":3.4,"I":-0.014},{"trace":"T13","t":3.5,"I":-0.013},{"trace":"T13","t":3.6,"I":-0.015},
{"trace":"T14","t":0,"I":0.002},{"trace":"T14","t":0.05,"I":0.000},{"trace":"T14","t":0.099,"I":0.003},
{"trace":"T14","t":0.1,"I":-0.045},{"trace":"T14","t":0.105,"I":-0.087},{"trace":"T14","t":0.11,"I":-0.123},{"trace":"T14","t":0.12,"I":-0.183},{"trace":"T14","t":0.13,"I":-0.228},{"trace":"T14","t":0.14,"I":-0.262},{"trace":"T14","t":0.16,"I":-0.309},{"trace":"T14","t":0.18,"I":-0.336},{"trace":"T14","t":0.2,"I":-0.352},{"trace":"T14","t":0.22,"I":-0.361},{"trace":"T14","t":0.25,"I":-0.368},
{"trace":"T14","t":0.3,"I":-0.363},{"trace":"T14","t":0.35,"I":-0.370},{"trace":"T14","t":0.4,"I":-0.372},{"trace":"T14","t":0.45,"I":-0.384},{"trace":"T14","t":0.5,"I":-0.371},{"trace":"T14","t":0.55,"I":-0.381},{"trace":"T14","t":0.6,"I":-0.380},{"trace":"T14","t":0.65,"I":-0.379},{"trace":"T14","t":0.7,"I":-0.367},{"trace":"T14","t":0.75,"I":-0.373},{"trace":"T14","t":0.8,"I":-0.369},{"trace":"T14","t":0.85,"I":-0.378},{"trace":"T14","t":0.9,"I":-0.377},{"trace":"T14","t":0.95,"I":-0.393},{"trace":"T14","t":1.0,"I":-0.389},{"trace":"T14","t":1.05,"I":-0.389},{"trace":"T14","t":1.1,"I":-0.376},{"trace":"T14","t":1.15,"I":-0.382},{"trace":"T14","t":1.2,"I":-0.374},{"trace":"T14","t":1.25,"I":-0.379},{"trace":"T14","t":1.3,"I":-0.373},{"trace":"T14","t":1.35,"I":-0.381},{"trace":"T14","t":1.4,"I":-0.377},{"trace":"T14","t":1.45,"I":-0.390},{"trace":"T14","t":1.5,"I":-0.386},{"trace":"T14","t":1.55,"I":-0.385},{"trace":"T14","t":1.6,"I":-0.370},{"trace":"T14","t":1.65,"I":-0.372},{"trace":"T14","t":1.7,"I":-0.371},{"trace":"T14","t":1.75,"I":-0.380},{"trace":"T14","t":1.8,"I":-0.377},{"trace":"T14","t":1.85,"I":-0.387},{"trace":"T14","t":1.9,"I":-0.381},{"trace":"T14","t":1.95,"I":-0.389},{"trace":"T14","t":2.0,"I":-0.385},{"trace":"T14","t":2.05,"I":-0.393},{"trace":"T14","t":2.1,"I":-0.381},{"trace":"T14","t":2.15,"I":-0.383},{"trace":"T14","t":2.2,"I":-0.374},{"trace":"T14","t":2.25,"I":-0.378},{"trace":"T14","t":2.3,"I":-0.369},{"trace":"T14","t":2.35,"I":-0.378},{"trace":"T14","t":2.4,"I":-0.372},{"trace":"T14","t":2.45,"I":-0.380},{"trace":"T14","t":2.5,"I":-0.374},{"trace":"T14","t":2.55,"I":-0.382},{"trace":"T14","t":2.6,"I":-0.377},{"trace":"T14","t":2.65,"I":-0.381},{"trace":"T14","t":2.7,"I":-0.377},{"trace":"T14","t":2.75,"I":-0.385},{"trace":"T14","t":2.8,"I":-0.380},{"trace":"T14","t":2.85,"I":-0.389},{"trace":"T14","t":2.9,"I":-0.377},{"trace":"T14","t":2.95,"I":-0.380},{"trace":"T14","t":3.0,"I":-0.371},{"trace":"T14","t":3.05,"I":-0.377},{"trace":"T14","t":3.099,"I":-0.374},
{"trace":"T14","t":3.1,"I":-0.014},{"trace":"T14","t":3.2,"I":-0.012},{"trace":"T14","t":3.3,"I":-0.015},{"trace":"T14","t":3.4,"I":-0.013},{"trace":"T14","t":3.5,"I":-0.014},{"trace":"T14","t":3.6,"I":-0.012},
{"trace":"T15","t":0,"I":-0.002},{"trace":"T15","t":0.05,"I":-0.004},{"trace":"T15","t":0.099,"I":-0.001},
{"trace":"T15","t":0.1,"I":-0.045},{"trace":"T15","t":0.105,"I":-0.104},{"trace":"T15","t":0.11,"I":-0.153},{"trace":"T15","t":0.12,"I":-0.230},{"trace":"T15","t":0.13,"I":-0.285},{"trace":"T15","t":0.14,"I":-0.325},{"trace":"T15","t":0.16,"I":-0.374},{"trace":"T15","t":0.18,"I":-0.398},{"trace":"T15","t":0.2,"I":-0.410},{"trace":"T15","t":0.22,"I":-0.417},{"trace":"T15","t":0.25,"I":-0.421},
{"trace":"T15","t":0.3,"I":-0.421},{"trace":"T15","t":0.35,"I":-0.431},{"trace":"T15","t":0.4,"I":-0.437},{"trace":"T15","t":0.45,"I":-0.435},{"trace":"T15","t":0.5,"I":-0.420},{"trace":"T15","t":0.55,"I":-0.430},{"trace":"T15","t":0.6,"I":-0.421},{"trace":"T15","t":0.65,"I":-0.422},{"trace":"T15","t":0.7,"I":-0.411},{"trace":"T15","t":0.75,"I":-0.419},{"trace":"T15","t":0.8,"I":-0.418},{"trace":"T15","t":0.85,"I":-0.428},{"trace":"T15","t":0.9,"I":-0.426},{"trace":"T15","t":0.95,"I":-0.443},{"trace":"T15","t":1.0,"I":-0.439},{"trace":"T15","t":1.05,"I":-0.439},{"trace":"T15","t":1.1,"I":-0.429},{"trace":"T15","t":1.15,"I":-0.428},{"trace":"T15","t":1.2,"I":-0.416},{"trace":"T15","t":1.25,"I":-0.423},{"trace":"T15","t":1.3,"I":-0.419},{"trace":"T15","t":1.35,"I":-0.426},{"trace":"T15","t":1.4,"I":-0.420},{"trace":"T15","t":1.45,"I":-0.427},{"trace":"T15","t":1.5,"I":-0.421},{"trace":"T15","t":1.55,"I":-0.429},{"trace":"T15","t":1.6,"I":-0.428},{"trace":"T15","t":1.65,"I":-0.434},{"trace":"T15","t":1.7,"I":-0.454},{"trace":"T15","t":1.75,"I":-0.428},{"trace":"T15","t":1.8,"I":-0.427},{"trace":"T15","t":1.85,"I":-0.421},{"trace":"T15","t":1.9,"I":-0.432},{"trace":"T15","t":1.95,"I":-0.425},{"trace":"T15","t":2.0,"I":-0.430},{"trace":"T15","t":2.05,"I":-0.424},{"trace":"T15","t":2.1,"I":-0.428},{"trace":"T15","t":2.15,"I":-0.416},{"trace":"T15","t":2.2,"I":-0.419},{"trace":"T15","t":2.25,"I":-0.412},{"trace":"T15","t":2.3,"I":-0.417},{"trace":"T15","t":2.35,"I":-0.415},{"trace":"T15","t":2.4,"I":-0.428},{"trace":"T15","t":2.45,"I":-0.424},{"trace":"T15","t":2.5,"I":-0.433},{"trace":"T15","t":2.55,"I":-0.427},{"trace":"T15","t":2.6,"I":-0.438},{"trace":"T15","t":2.65,"I":-0.433},{"trace":"T15","t":2.7,"I":-0.442},{"trace":"T15","t":2.75,"I":-0.436},{"trace":"T15","t":2.8,"I":-0.435},{"trace":"T15","t":2.85,"I":-0.422},{"trace":"T15","t":2.9,"I":-0.427},{"trace":"T15","t":2.95,"I":-0.418},{"trace":"T15","t":3.0,"I":-0.424},{"trace":"T15","t":3.05,"I":-0.416},{"trace":"T15","t":3.099,"I":-0.421},
{"trace":"T15","t":3.1,"I":-0.015},{"trace":"T15","t":3.2,"I":-0.013},{"trace":"T15","t":3.3,"I":-0.016},{"trace":"T15","t":3.4,"I":-0.014},{"trace":"T15","t":3.5,"I":-0.015},{"trace":"T15","t":3.6,"I":-0.013},
{"trace":"T16","t":0,"I":0.000},{"trace":"T16","t":0.035,"I":-0.001},{"trace":"T16","t":0.04,"I":-0.022},{"trace":"T16","t":0.045,"I":-0.002},{"trace":"T16","t":0.07,"I":0.001},{"trace":"T16","t":0.099,"I":-0.001},
{"trace":"T16","t":0.1,"I":-0.045},{"trace":"T16","t":0.105,"I":-0.138},{"trace":"T16","t":0.11,"I":-0.210},{"trace":"T16","t":0.12,"I":-0.313},{"trace":"T16","t":0.13,"I":-0.377},{"trace":"T16","t":0.14,"I":-0.416},{"trace":"T16","t":0.16,"I":-0.455},{"trace":"T16","t":0.18,"I":-0.470},{"trace":"T16","t":0.2,"I":-0.474},{"trace":"T16","t":0.22,"I":-0.481},{"trace":"T16","t":0.25,"I":-0.477},
{"trace":"T16","t":0.3,"I":-0.478},{"trace":"T16","t":0.35,"I":-0.490},{"trace":"T16","t":0.4,"I":-0.490},{"trace":"T16","t":0.45,"I":-0.500},{"trace":"T16","t":0.5,"I":-0.485},{"trace":"T16","t":0.55,"I":-0.493},{"trace":"T16","t":0.6,"I":-0.490},{"trace":"T16","t":0.65,"I":-0.494},{"trace":"T16","t":0.7,"I":-0.482},{"trace":"T16","t":0.75,"I":-0.486},{"trace":"T16","t":0.8,"I":-0.477},{"trace":"T16","t":0.85,"I":-0.487},{"trace":"T16","t":0.9,"I":-0.485},{"trace":"T16","t":0.95,"I":-0.494},{"trace":"T16","t":1.0,"I":-0.493},{"trace":"T16","t":1.05,"I":-0.502},{"trace":"T16","t":1.1,"I":-0.501},{"trace":"T16","t":1.15,"I":-0.500},{"trace":"T16","t":1.2,"I":-0.485},{"trace":"T16","t":1.25,"I":-0.494},{"trace":"T16","t":1.3,"I":-0.486},{"trace":"T16","t":1.35,"I":-0.490},{"trace":"T16","t":1.4,"I":-0.482},{"trace":"T16","t":1.45,"I":-0.491},{"trace":"T16","t":1.5,"I":-0.485},{"trace":"T16","t":1.55,"I":-0.495},{"trace":"T16","t":1.6,"I":-0.492},{"trace":"T16","t":1.65,"I":-0.497},{"trace":"T16","t":1.7,"I":-0.488},{"trace":"T16","t":1.75,"I":-0.489},{"trace":"T16","t":1.8,"I":-0.481},{"trace":"T16","t":1.85,"I":-0.494},{"trace":"T16","t":1.9,"I":-0.491},{"trace":"T16","t":1.95,"I":-0.498},{"trace":"T16","t":2.0,"I":-0.493},{"trace":"T16","t":2.05,"I":-0.507},{"trace":"T16","t":2.1,"I":-0.516},{"trace":"T16","t":2.15,"I":-0.496},{"trace":"T16","t":2.2,"I":-0.497},{"trace":"T16","t":2.25,"I":-0.488},{"trace":"T16","t":2.3,"I":-0.493},{"trace":"T16","t":2.35,"I":-0.487},{"trace":"T16","t":2.4,"I":-0.500},{"trace":"T16","t":2.45,"I":-0.501},{"trace":"T16","t":2.5,"I":-0.514},{"trace":"T16","t":2.55,"I":-0.494},{"trace":"T16","t":2.6,"I":-0.490},{"trace":"T16","t":2.65,"I":-0.480},{"trace":"T16","t":2.7,"I":-0.488},{"trace":"T16","t":2.75,"I":-0.481},{"trace":"T16","t":2.8,"I":-0.488},{"trace":"T16","t":2.85,"I":-0.478},{"trace":"T16","t":2.9,"I":-0.488},{"trace":"T16","t":2.95,"I":-0.484},{"trace":"T16","t":3.0,"I":-0.494},{"trace":"T16","t":3.05,"I":-0.491},{"trace":"T16","t":3.099,"I":-0.496},
{"trace":"T16","t":3.1,"I":-0.038},{"trace":"T16","t":3.12,"I":-0.018},{"trace":"T16","t":3.2,"I":-0.016},{"trace":"T16","t":3.3,"I":-0.017},{"trace":"T16","t":3.4,"I":-0.015},{"trace":"T16","t":3.5,"I":-0.016},{"trace":"T16","t":3.6,"I":-0.014}
]},
"layer": [
{
"mark": {"type": "line", "color": "black", "strokeWidth": 2.6, "strokeJoin": "round"},
"encoding": {
"x": {"field": "t", "type": "quantitative",
 "scale": {"domain": [0, 3.6], "nice": false, "zero": false},
 "axis": {"values": [0.1, 3.1], "format": ".1f", "orient": "bottom", "grid": false,
  "domainColor": "#262626", "domainWidth": 1, "tickColor": "#262626", "tickWidth": 1, "tickSize": -6,
  "labelFont": "DejaVu Sans", "labelFontSize": 22, "labelColor": "#262626", "labelPadding": 13, "labelFlush": false, "labelOverlap": false,
  "title": "t [s]", "titleFont": "DejaVu Sans", "titleFontSize": 25, "titleFontWeight": "normal", "titleColor": "#262626",
  "titleBaseline": "alphabetic", "titleX": 302, "titleY": 63}},
"y": {"field": "I", "type": "quantitative",
 "scale": {"domain": [-0.5935, 0.1165], "nice": false, "zero": false},
 "axis": {"values": [0, -0.2, -0.4], "orient": "left", "grid": false,
  "labelExpr": "datum.value == 0 ? '0\u00a0\u00a0\u00a0' : '-' + format(abs(datum.value), '.1f')",
  "domainColor": "#262626", "domainWidth": 1, "tickColor": "#262626", "tickWidth": 1, "tickSize": -6,
  "labelFont": "DejaVu Sans", "labelFontSize": 22, "labelColor": "#262626", "labelPadding": 10, "labelFlush": false, "labelOverlap": false,
  "title": "I [nA]", "titleFont": "DejaVu Sans", "titleFontSize": 25, "titleFontWeight": "normal", "titleColor": "#262626",
  "titleAngle": 270, "titleBaseline": "alphabetic", "titleX": -66.5, "titleY": 234.5}},
"detail": {"field": "trace", "type": "nominal"}
}
},
{
"transform": [{"filter": "false"}],
"mark": {"type": "line", "color": "black"},
"encoding": {
"x": {"field": "t", "type": "quantitative",
 "scale": {"domain": [0, 3.6], "nice": false, "zero": false},
 "axis": {"orient": "top", "domain": false, "ticks": false, "labels": false, "grid": false,
  "title": "25 \u00b0C\u00a0 Activation", "titleFont": "DejaVu Sans", "titleFontSize": 18, "titleFontWeight": "normal", "titleColor": "black",
  "titleAnchor": "end", "titleAlign": "right", "titleBaseline": "alphabetic", "titleX": 602, "titleY": 4}},
"y": {"field": "I", "type": "quantitative",
 "scale": {"domain": [-0.5935, 0.1165], "nice": false, "zero": false},
 "axis": {"orient": "right", "domain": false, "ticks": false, "labels": false, "grid": false,
  "title": "BBP Channelpedia ID 34102 rep 3", "titleFont": "DejaVu Sans", "titleFontSize": 13, "titleFontWeight": "normal", "titleColor": "black",
  "titleAngle": 270, "titleBaseline": "alphabetic", "titleX": 16, "titleY": 234.5}},
"detail": {"field": "trace", "type": "nominal"}
}
}
],
"resolve": {"axis": {"x": "independent", "y": "independent"}}
}
